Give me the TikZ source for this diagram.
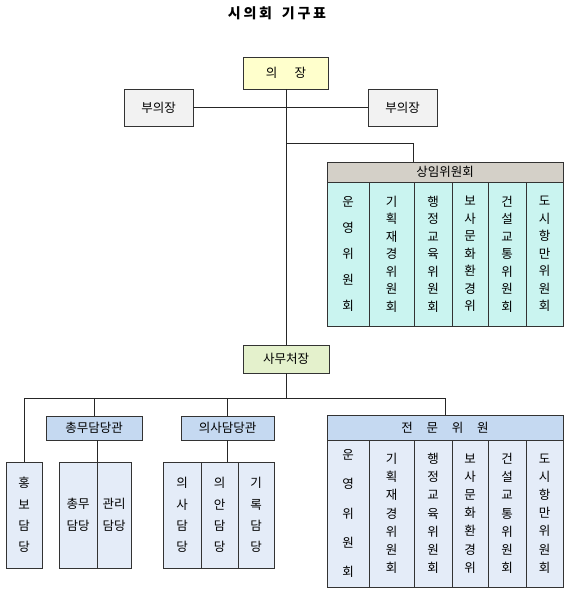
\documentclass[tikz,border=0pt]{standalone}
\usepackage{fontspec}
\setmainfont{Noto Sans CJK KR}
\usetikzlibrary{shadows}
\definecolor{chairfill}{RGB}{255,255,204}
\definecolor{vicefill}{RGB}{242,242,242}
\definecolor{standhead}{RGB}{212,208,200}
\definecolor{standcol}{RGB}{202,244,240}
\definecolor{secfill}{RGB}{228,241,204}
\definecolor{headblue}{RGB}{197,217,241}
\definecolor{colblue}{RGB}{228,236,248}
\begin{document}
\begin{tikzpicture}[x=1pt,y=-1pt,
    box/.style={draw=black!80,line width=0.8pt,inner sep=0pt,align=center,
      font=\fontsize{12.5}{15}\selectfont,
      drop shadow={shadow xshift=0.8pt,shadow yshift=-0.8pt,fill=black!40,opacity=0.6}},
    link/.style={draw=black!85,line width=1pt}]
  \useasboundingbox (0,0) rectangle (568,594);

  \node[font=\fontsize{14}{16}\selectfont\bfseries\addfontfeatures{LetterSpace=20}] (title) at (277,13) {시의회\hspace{0.7em}기구표};

  \node[box,fill=chairfill,minimum width=85,minimum height=32] (chair) at (286,73) {의\hspace{1.4em}장};
  \node[box,fill=vicefill,minimum width=69,minimum height=37] (vl) at (158.5,107.5) {부의장};
  \node[box,fill=vicefill,minimum width=69,minimum height=37] (vr) at (402.5,107.5) {부의장};

  \node[box,fill=standhead,minimum width=236,minimum height=20] (stand) at (445,172) {상임위원회};
  \foreach \n/\cx/\w/\ls/\t in {s1/348/42/26.2/{운\\영\\위\\원\\회},
      s2/391.5/45/17.5/{기\\획\\재\\경\\위\\원\\회},
      s3/433/38/17.5/{행\\정\\교\\육\\위\\원\\회},
      s4/470/36/17.5/{보\\사\\문\\화\\환\\경\\위},
      s5/507/38/17.5/{건\\설\\교\\통\\위\\원\\회},
      s6/544.5/37/17.5/{도\\시\\항\\만\\위\\원\\회}}
    \node[box,fill=standcol,minimum width=\w,minimum height=144,
      font=\fontsize{12.5}{\ls}\selectfont] (\n) at (\cx,254) {\t};

  \node[box,fill=secfill,minimum width=86,minimum height=28] (sec) at (286,359) {사무처장};

  \node[box,fill=headblue,minimum width=96,minimum height=24] (gen) at (94,428) {총무담당관};
  \node[box,fill=headblue,minimum width=93,minimum height=24] (proc) at (227.5,428) {의사담당관};
  \node[box,fill=headblue,minimum width=236,minimum height=25] (expert) at (445,427.5)
    {전\hspace{1.1em}문\hspace{1.1em}위\hspace{1.1em}원};
  \foreach \n/\cx/\w/\ls/\t in {e1/348/42/29.2/{운\\영\\위\\원\\회},
      e2/391.5/45/18.2/{기\\획\\재\\경\\위\\원\\회},
      e3/433/38/18.2/{행\\정\\교\\육\\위\\원\\회},
      e4/470/36/18.2/{보\\사\\문\\화\\환\\경\\위},
      e5/507/38/18.2/{건\\설\\교\\통\\위\\원\\회},
      e6/544.5/37/18.2/{도\\시\\항\\만\\위\\원\\회}}
    \node[box,fill=colblue,minimum width=\w,minimum height=147,
      font=\fontsize{12.5}{\ls}\selectfont] (\n) at (\cx,513.5) {\t};

  \foreach \n/\cx/\w/\ls/\t in {pr/24/36/21.3/{홍\\보\\담\\당},
      g1/78/38/22/{총무\\담당},
      g2/114/34/22/{관리\\담당},
      p1/182/38/21.3/{의\\사\\담\\당},
      p2/219.5/37/21.3/{의\\안\\담\\당},
      p3/256/36/21.3/{기\\록\\담\\당}}
    \node[box,fill=colblue,minimum width=\w,minimum height=106,
      font=\fontsize{12.5}{\ls}\selectfont] (\n) at (\cx,515) {\t};

  \coordinate (ja) at (286,143);
  \coordinate (jb) at (413,143);
  \coordinate (jc) at (286,398);

  \draw[link] (vl) -- (vr);
  \draw[link] (chair) -- (sec);
  \draw[link] (ja) -- (jb) -- (jb |- stand.north);
  \draw[link] (sec) -- (jc);
  \draw[link] (pr.north) |- (expert.north |- jc) -- (expert.north);
  \draw[link] (gen.north |- jc) -- (gen.north);
  \draw[link] (proc.north |- jc) -- (proc.north);
  \draw[link] (gen.south -| g1.north east) -- (g1.north east);
  \draw[link] (proc.south) -- (proc.south |- p2.north);
\end{tikzpicture}
\end{document}
